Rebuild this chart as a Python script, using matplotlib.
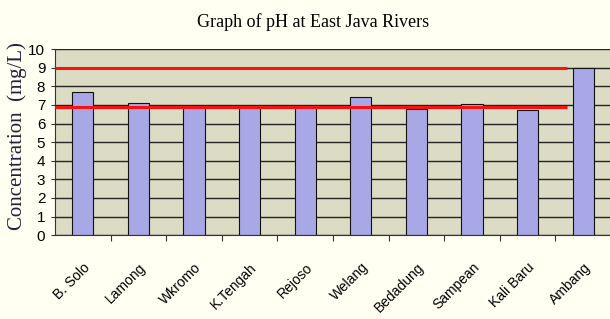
"""Bar chart of pH at East Java rivers with quality limits."""

import matplotlib.pyplot as plt
import numpy as np

rivers = ["B. Solo", "Lamong", "Wkromo", "K.Tengah", "Rejoso",
          "Welang", "Bedadung", "Sampean", "Kali Baru", "Ambang"]
ph_values = [7.7, 7.1, 6.9, 6.9, 6.9, 7.4, 6.8, 7.05, 6.75, 9.0]
limit_upper = 9.0
limit_lower = 6.9

plt.rcParams["font.family"] = ["Liberation Sans", "DejaVu Sans"]
serif = ["Liberation Serif", "DejaVu Serif"]

fig = plt.figure(figsize=(6.1, 3.19), dpi=100, facecolor="#fffff2")
ax = fig.add_axes((0.0902, 0.263, 0.9115, 0.583))
ax.set_facecolor("#dcdcc4")

x = np.arange(len(rivers))
ax.set_axisbelow(True)
ax.yaxis.grid(True, color="#222222", linewidth=1.0)
ax.bar(x, ph_values, width=0.38, color="#a8a8e6", edgecolor="#111111", linewidth=0.8, zorder=2)
ax.hlines([limit_upper, limit_lower], -0.5, 8.71, colors="#ff1010", linewidth=2.2, zorder=3)

ax.set_xlim(-0.5, 9.5)
ax.set_ylim(0, 10)
ax.set_yticks(range(0, 11))
ax.tick_params(axis="y", labelsize=11, length=3, pad=4, color="#333333")
ax.set_xticks(x + 0.5, minor=False)
ax.set_xticklabels([])
ax.set_xticks(x, minor=True)
ax.set_xticklabels(rivers, minor=True, rotation=45, ha="right", va="top",
                   rotation_mode="anchor", fontsize=10)
ax.tick_params(axis="x", which="minor", length=0, pad=18)
ax.tick_params(axis="x", which="major", length=4, color="#333333")

for side in ("top", "right"):
    ax.spines[side].set_visible(False)
ax.spines["left"].set_color("#333333")
ax.spines["bottom"].set_color("#333333")

fig.text(17 / 610, 1 - 136 / 319, "Concentration  (mg/L)", family=serif, fontsize=15,
         color="#22223a", rotation=90, ha="center", va="center")
fig.text(313 / 610, 1 - 27 / 319, "Graph of pH at East Java Rivers", family=serif,
         fontsize=13, ha="center", va="baseline")

fig.savefig("out.png", dpi=100, facecolor=fig.get_facecolor())
